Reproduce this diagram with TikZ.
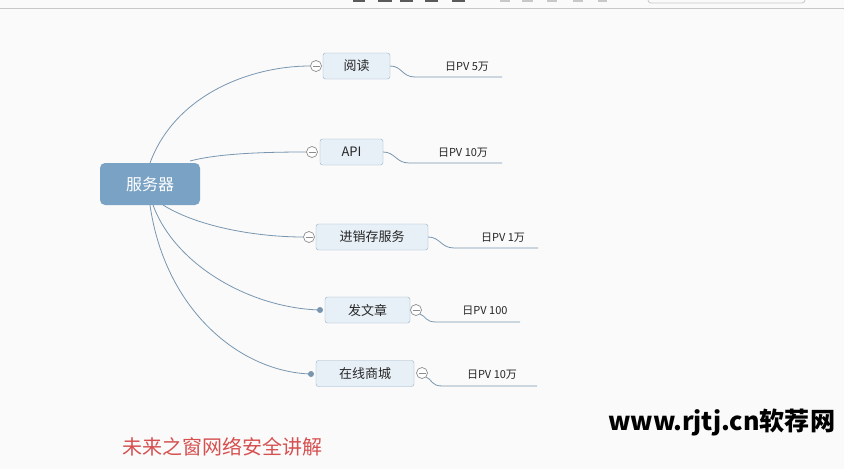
\documentclass[tikz,border=0pt]{standalone}
\usepackage{fontspec}
\usepackage{graphicx}
\setmainfont{Noto Sans CJK SC}
\newfontfamily\cjk{Noto Sans CJK SC}
\definecolor{bgc}{RGB}{250,250,250}
\definecolor{rootc}{RGB}{122,162,196}
\definecolor{boxfill}{RGB}{232,240,247}
\definecolor{boxline}{RGB}{150,176,198}
\definecolor{linkc}{RGB}{120,150,176}
\definecolor{knobc}{RGB}{140,140,140}
\definecolor{wmred}{RGB}{214,80,80}
\definecolor{barc}{RGB}{200,200,200}
\definecolor{iconc}{RGB}{90,90,90}
\begin{document}
\begin{tikzpicture}[x=1pt,y=-1pt,
  rootbox/.style={draw=none,fill=rootc,rounded corners=5pt,minimum width=100pt,minimum height=42pt,text=white,font=\cjk\fontsize{16}{18}\selectfont,inner sep=0pt},
  childbox/.style={draw=boxline,fill=boxfill,rounded corners=2.5pt,minimum height=26pt,inner sep=0pt,font=\cjk\fontsize{13}{15}\selectfont,text=black!85},
  pvlabel/.style={font=\cjk\fontsize{11}{13}\selectfont,text=black!85,inner sep=0pt},
  knob/.style={circle,draw=knobc,fill=white,minimum size=11pt,inner sep=0pt,line width=0.7pt},
  dotknob/.style={circle,fill=linkc,minimum size=6pt,inner sep=0pt},
  link/.style={draw=linkc,line width=0.8pt},
  uline/.style={draw=linkc,line width=0.8pt}
]
\useasboundingbox (0,0) rectangle (844,469);
\fill[bgc] (0,0) rectangle (844,469);
% top toolbar remnant
\draw[barc,line width=1pt] (0,8) -- (844,8);
\draw[barc,line width=0.8pt,rounded corners=3pt] (648,-6) rectangle (805,3);
\foreach \a/\b in {353/365,378/392,400/413,425/438,452/465}
  \fill[iconc] (\a,0) rectangle (\b,2);
\foreach \a/\b in {500/510,522/533,547/557,573/583,598/607}
  \fill[barc] (\a,0) rectangle (\b,2);

% root
\node[rootbox] (root) at (150,184) {服务器};

% children
\node[childbox,minimum width=67pt] (c1) at (356.5,66) {阅读};
\node[childbox,minimum width=63pt] (c2) at (351.5,152) {API};
\node[childbox,minimum width=112pt] (c3) at (372,237) {进销存服务};
\node[childbox,minimum width=85pt] (c4) at (367.5,310) {发文章};
\node[childbox,minimum width=98pt] (c5) at (365,373.5) {在线商城};

% knobs
\node[knob] (k1) at (316,66) {};
\node[knob] (k2) at (312,152) {};
\node[knob] (k3) at (309,237) {};
\node[dotknob] (d4) at (320,310) {};
\node[knob] (k4) at (416,310) {};
\node[dotknob] (d5) at (311,374) {};
\node[knob] (k5) at (422,373) {};
\foreach \k in {k1,k2,k3,k4,k5}
  \draw[knobc,line width=0.7pt] ([xshift=-3.5pt]\k.center) -- ([xshift=3.5pt]\k.center);

% connectors from root
\coordinate (r1) at (150,163);
\coordinate (r2) at (190,161);
\coordinate (r3) at (163,205);
\coordinate (r4) at (153,205);
\coordinate (r5) at (150,205);
\draw[link] (r1) .. controls (175,95) and (250,66) .. (k1.west);
\draw[link] (r2) .. controls (220,153) and (270,152) .. (k2.west);
\draw[link] (r3) .. controls (200,228) and (260,237) .. (k3.west);
\draw[link] (r4) .. controls (175,265) and (250,308) .. (d4.center);
\draw[link] (r5) .. controls (165,310) and (240,372) .. (d5.center);

% PV labels
\node[pvlabel] (p1) at (467,67) {日PV 5万};
\node[pvlabel] (p2) at (463,153) {日PV 10万};
\node[pvlabel] (p3) at (503,238) {日PV 1万};
\node[pvlabel] (p4) at (485,311) {日PV 100};
\node[pvlabel] (p5) at (492,375) {日PV 10万};

\coordinate (e1) at (502,77);
\coordinate (e2) at (502,163);
\coordinate (e3) at (538,248);
\coordinate (e4) at (520,322);
\coordinate (e5) at (537,386);
\draw[uline] (c1.east) .. controls (402,66) and (402,77) .. (415,77) -- (e1);
\draw[uline] (c2.east) .. controls (395,152) and (396,163) .. (409,163) -- (e2);
\draw[uline] (c3.east) .. controls (440,237) and (441,248) .. (454,248) -- (e3);
\draw[uline] (k4.south east) .. controls (426,316) and (425,322) .. (436,322) -- (e4);
\draw[uline] (k5.south east) .. controls (432,379) and (431,386) .. (442,386) -- (e5);

% watermarks
\node[text=wmred,anchor=west,inner sep=0pt] (wm1) at (122,447) {\resizebox{200pt}{!}{\cjk\fontsize{18}{20}\selectfont 未来之窗网络安全讲解}};
\node[text=black,anchor=west,inner sep=0pt] (wm2) at (608,423) {\resizebox{227pt}{!}{\cjk\bfseries\fontsize{27}{30}\selectfont www.rjtj.cn软荐网}};
\end{tikzpicture}
\end{document}
